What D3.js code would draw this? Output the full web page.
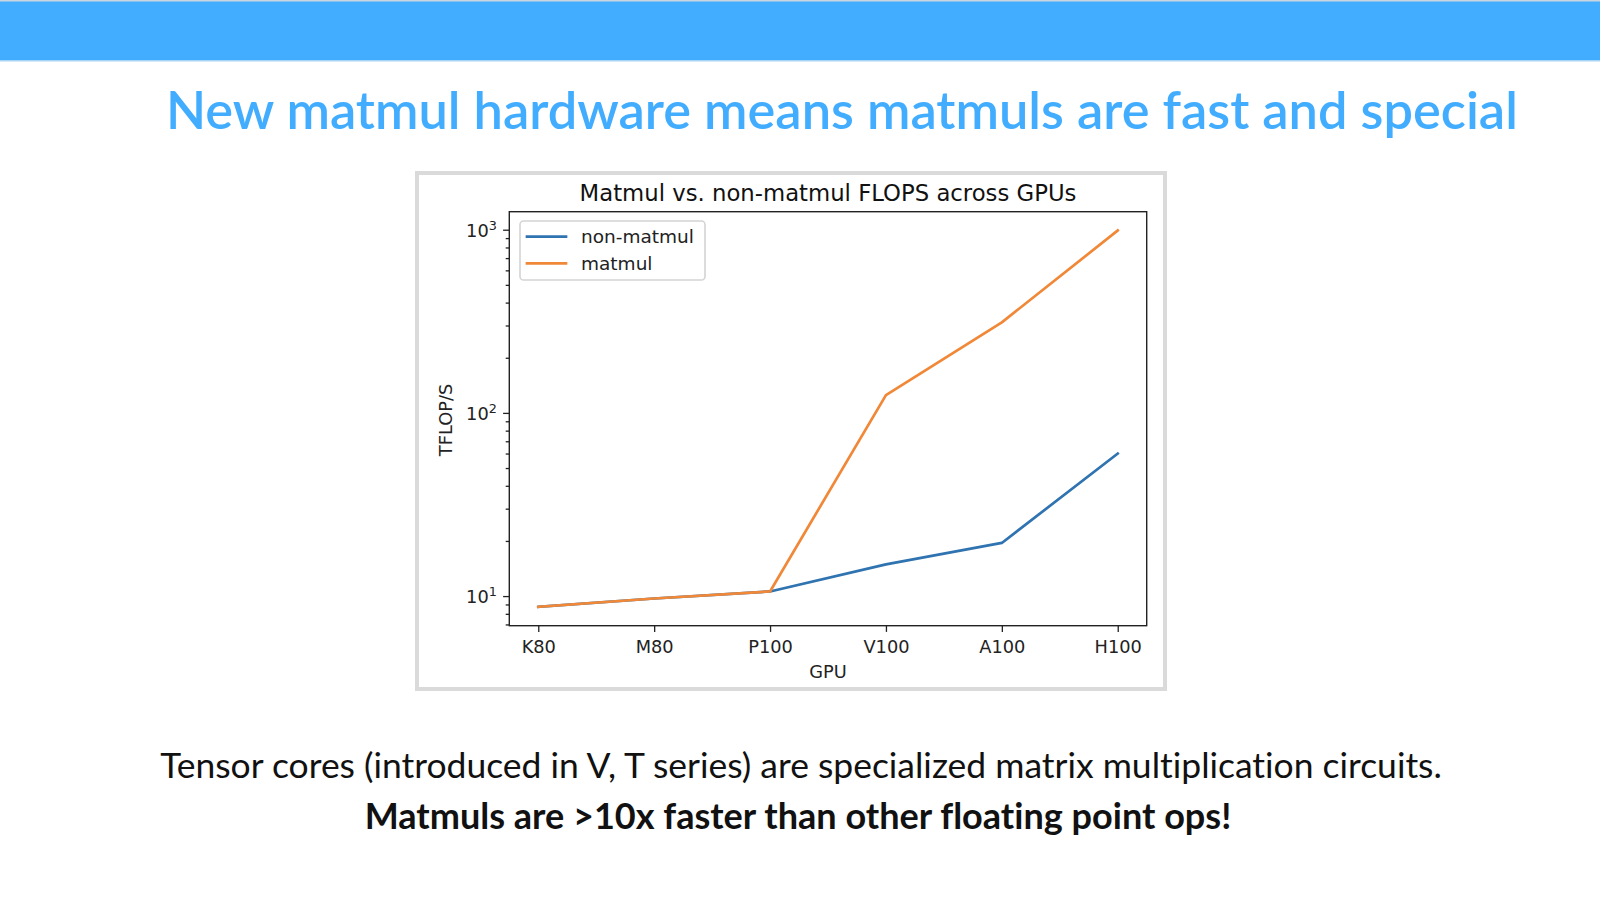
<!DOCTYPE html>
<html>
<head>
<meta charset="utf-8">
<script src="https://cdn.jsdelivr.net/npm/d3@7"></script>
<style>
  html, body { margin: 0; padding: 0; background: #fff; }
  svg { display: block; }
  text { font-variant-ligatures: none; font-feature-settings: "liga" 0, "clig" 0; }
</style>
</head>
<body>
<script>
// data
let gpus = ['K80', 'M80', 'P100', 'V100', 'A100', 'H100'];
let nonMatmul = [8.73, 9.7, 10.6, 14.9, 19.5, 60];
let matmul = [8.73, 9.7, 10.6, 125, 312, 990];
let seriesNames = ['non-matmul', 'matmul'];
let majorTicks = [10, 100, 1000];

let slideTitle = 'New matmul hardware means matmuls are fast and special';
let chartTitle = 'Matmul vs. non-matmul FLOPS across GPUs';
let noteLine1 = 'Tensor cores (introduced in V, T series) are specialized matrix multiplication circuits.';
let noteLine2 = 'Matmuls are >10x faster than other floating point ops!';

let W = 1600, H = 901;
let svg = d3.select('body')
  .append('svg')
  .attr('width', W)
  .attr('height', H);

// header bar
svg.append('rect').attr('x', 0).attr('y', 0).attr('width', W).attr('height', 61).attr('fill', '#42adff');
svg.append('rect').attr('x', 0).attr('y', 0).attr('width', W).attr('height', 1.5).attr('fill', '#c9d6e0');
svg.append('rect').attr('x', 0).attr('y', 60).attr('width', W).attr('height', 1.5).attr('fill', '#a9d3f3');

// fit a text to a given width by scaling its font size
function fitText(sel, width) {
  let w = sel.node().getComputedTextLength();
  let fs = parseFloat(sel.attr('font-size'));
  sel.attr('font-size', fs * width / w);
}

let slideFont = 'Lato, "Open Sans", sans-serif';
let t1 = svg.append('text')
  .attr('x', 166).attr('y', 129)
  .attr('font-family', slideFont).attr('font-weight', 600)
  .attr('font-size', 50).attr('fill', '#42adff')
  .text(slideTitle);
fitText(t1, 1352);

let n1 = svg.append('text')
  .attr('x', 801).attr('y', 778).attr('text-anchor', 'middle')
  .attr('font-family', slideFont).attr('font-weight', 400)
  .attr('font-size', 36).attr('fill', '#111')
  .text(noteLine1);
fitText(n1, 1282);

let n2 = svg.append('text')
  .attr('x', 798).attr('y', 829).attr('text-anchor', 'middle')
  .attr('font-family', slideFont).attr('font-weight', 700)
  .attr('font-size', 36).attr('fill', '#111')
  .text(noteLine2);
fitText(n2, 867);

// grey picture frame
svg.append('rect')
  .attr('x', 417).attr('y', 173).attr('width', 748).attr('height', 516)
  .attr('fill', '#fff').attr('stroke', '#dadada').attr('stroke-width', 4);

// plot area
let plot = { left: 509.3, right: 1146.7, top: 211.7, bottom: 625.7 };
let chartFont = '"DejaVu Sans", sans-serif';
let fs = 17.8;
let majorLen = 6.2, minorLen = 3.6;

let x = d3.scalePoint()
  .domain(gpus)
  .range([plot.left, plot.right])
  .padding(0.25);

// log extent with 5% margins like matplotlib
let allVals = nonMatmul.concat(matmul);
let lo = Math.log10(d3.min(allVals)), hi = Math.log10(d3.max(allVals));
let pad = (hi - lo) * 0.05;
let y = d3.scaleLog()
  .domain([Math.pow(10, lo - pad), Math.pow(10, hi + pad)])
  .range([plot.bottom, plot.top]);

let chartGroup = svg.append('g');

// lines
let line = d3.line()
  .x(function (d, i) { return x(gpus[i]); })
  .y(function (d) { return y(d); });

let colors = ['#2f73b0', '#f08838'];
[nonMatmul, matmul].forEach(function (s, k) {
  chartGroup.append('path')
    .attr('d', line(s))
    .attr('fill', 'none')
    .attr('stroke', colors[k])
    .attr('stroke-width', 2.7)
    .attr('stroke-linejoin', 'round')
    .attr('stroke-linecap', 'square');
});

// minor y ticks
let minor = [];
for (let e = 0; e <= 3; e++) {
  for (let m = 2; m <= 9; m++) {
    let v = m * Math.pow(10, e);
    if (v >= y.domain()[0] && v <= y.domain()[1]) minor.push(v);
  }
}
let yMinor = d3.axisLeft(y).tickValues(minor).tickSize(minorLen).tickFormat('');
chartGroup.append('g')
  .attr('transform', 'translate(' + plot.left + ',0)')
  .call(yMinor);

let yAxis = d3.axisLeft(y).tickValues(majorTicks).tickSize(majorLen).tickPadding(6.2).tickFormat('');
let yg = chartGroup.append('g')
  .attr('transform', 'translate(' + plot.left + ',0)')
  .call(yAxis);
yg.selectAll('.tick text').remove();
yg.selectAll('.tick').each(function (d) {
  let t = d3.select(this).append('text')
    .attr('x', -(majorLen + 6.2))
    .attr('y', 0)
    .attr('dy', '0.36em')
    .attr('text-anchor', 'end')
    .attr('font-family', chartFont)
    .attr('font-size', fs)
    .attr('fill', '#222');
  t.append('tspan').text('10');
  t.append('tspan')
    .attr('font-size', fs * 0.72)
    .attr('dy', '-0.55em')
    .text(String(Math.round(Math.log10(d))));
});

let xAxis = d3.axisBottom(x).tickSize(majorLen).tickPadding(8.8);
let xg = chartGroup.append('g')
  .attr('transform', 'translate(0,' + plot.bottom + ')')
  .call(xAxis);
xg.selectAll('text')
  .attr('font-family', chartFont)
  .attr('font-size', fs)
  .attr('fill', '#222');

chartGroup.selectAll('line').attr('stroke', '#222').attr('stroke-width', 1.3);
chartGroup.selectAll('.domain').remove();

// frame
chartGroup.append('rect')
  .attr('x', plot.left).attr('y', plot.top)
  .attr('width', plot.right - plot.left).attr('height', plot.bottom - plot.top)
  .attr('fill', 'none').attr('stroke', '#222').attr('stroke-width', 1.4);

// titles
let ct = chartGroup.append('text')
  .attr('x', (plot.left + plot.right) / 2).attr('y', 200.5)
  .attr('text-anchor', 'middle')
  .attr('font-family', chartFont).attr('font-size', 21.4).attr('fill', '#111')
  .text(chartTitle);
fitText(ct, 497);

chartGroup.append('text')
  .attr('x', (plot.left + plot.right) / 2).attr('y', 678)
  .attr('text-anchor', 'middle')
  .attr('font-family', chartFont).attr('font-size', fs).attr('fill', '#222')
  .text('GPU');

chartGroup.append('text')
  .attr('transform', 'translate(452,420) rotate(-90)')
  .attr('text-anchor', 'middle')
  .attr('font-family', chartFont).attr('font-size', fs).attr('fill', '#222')
  .text('TFLOP/S');

// legend
let legend = chartGroup.append('g');
legend.append('rect')
  .attr('x', 520).attr('y', 221).attr('width', 185).attr('height', 59)
  .attr('rx', 3.6)
  .attr('fill', '#fff').attr('fill-opacity', 0.8)
  .attr('stroke', '#d4d4d4').attr('stroke-width', 1.6);
seriesNames.forEach(function (name, k) {
  let ly = 236.7 + k * 26.6;
  legend.append('line')
    .attr('x1', 527).attr('x2', 566)
    .attr('y1', ly).attr('y2', ly)
    .attr('stroke', colors[k]).attr('stroke-width', 2.7)
    .attr('stroke-linecap', 'square');
  legend.append('text')
    .attr('x', 581).attr('y', ly + 6.3)
    .attr('font-family', chartFont).attr('font-size', 18.5).attr('fill', '#222')
    .text(name);
});
</script>
</body>
</html>
